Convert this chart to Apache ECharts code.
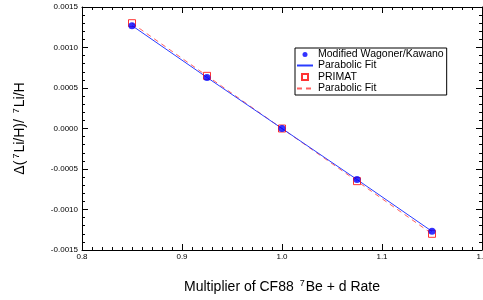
<!DOCTYPE html>
<html lang="en">
<head>
    <meta charset="UTF-8">
    <title>Li7 sensitivity</title>
    <script src="https://cdn.jsdelivr.net/npm/echarts@6/dist/echarts.min.js"></script>
</head>
<body style="margin:0;width:483px;height:300px;background:#fff">
    <div id="container" style="width:483px;height:300px"></div>
</body>
<script>
    // data
    var multipliers = [0.85, 0.925, 1.0, 1.075, 1.15];
    var wagonerVals = [0.00127, 0.00063, 0.0, -0.00063, -0.00127];
    var primatVals = [0.00130, 0.00065, 0.0, -0.00065, -0.00130];
    var legendNames = ['Modified Wagoner/Kawano', 'Parabolic Fit', 'PRIMAT', 'Parabolic Fit '];

    function pairs(xs, ys) {
        return xs.map(function (x, i) { return [x, ys[i]]; });
    }

    var font = '"Liberation Sans", Arial, sans-serif';
    var axisLine = {show: true, onZero: false, lineStyle: {color: '#000', width: 1}};
    var tick = {show: true, inside: true, length: 6, lineStyle: {color: '#000'}};
    var titleRich = {
        t: {fontSize: 14, color: '#000', fontFamily: font},
        s: {fontSize: 9, color: '#000', fontFamily: font, verticalAlign: 'top', padding: [0, 1, 7, 2]}
    };

    // legend icons: padded boxes so the marks stay small
    var dotIcon = 'path://M0,0 M16,10 M5.5,5 a2.5,2.5 0 1,0 5,0 a2.5,2.5 0 1,0 -5,0 Z';
    var boxIcon = 'path://M0,0 M16,10 M5,2 L11,2 L11,8 L5,8 Z';

    var dom = document.getElementById('container');
    var myChart = echarts.init(dom);

    var option = {
        animation: false,
        textStyle: {fontFamily: font},
        grid: {left: 82, right: 1, top: 7, bottom: 50, outerBoundsMode: 'none'},
        legend: {
            orient: 'vertical',
            left: 295, top: 48,
            padding: [1, 3, 1, 1],
            itemGap: 0,
            itemWidth: 16, itemHeight: 10,
            borderColor: '#000', borderWidth: 1,
            textStyle: {fontSize: 10.5, color: '#000', fontFamily: font},
            formatter: function (n) { return n.trim(); },
            data: [
                {name: legendNames[0], icon: dotIcon},
                {name: legendNames[1], itemStyle: {opacity: 0}},
                {name: legendNames[2], icon: boxIcon},
                {name: legendNames[3], itemStyle: {opacity: 0}}
            ]
        },
        xAxis: [{
            type: 'value', min: 0.8, max: 1.2, interval: 0.1,
            axisLine: axisLine, axisTick: tick,
            minorTick: {show: true, splitNumber: 10, length: 3, lineStyle: {color: '#000'}},
            splitLine: {show: false},
            axisLabel: {fontSize: 8, color: '#000', margin: 3,
                formatter: function (v) { return v.toFixed(1); }},
            name: '{t|Multiplier of CF88 }{s|7}{t|Be + d Rate}',
            nameLocation: 'middle', nameGap: 29,
            nameTextStyle: {rich: titleRich}
        }, {
            type: 'value', position: 'top', min: 0.8, max: 1.2, interval: 0.1,
            axisLine: axisLine, axisTick: tick,
            minorTick: {show: true, splitNumber: 10, length: 3, lineStyle: {color: '#000'}},
            splitLine: {show: false}, axisLabel: {show: false}
        }],
        yAxis: [{
            type: 'value', min: -0.0015, max: 0.0015, interval: 0.0005,
            axisLine: axisLine, axisTick: tick,
            minorTick: {show: true, splitNumber: 5, length: 3, lineStyle: {color: '#000'}},
            splitLine: {show: false},
            axisLabel: {fontSize: 8, color: '#000', margin: 4,
                formatter: function (v) { return v.toFixed(4); }},
            name: '{t|Δ(}{s|7}{t|Li/H)/ }{s|7}{t|Li/H}',
            nameLocation: 'middle', nameGap: 54, nameRotate: 90,
            nameTextStyle: {rich: titleRich}
        }, {
            type: 'value', position: 'right', min: -0.0015, max: 0.0015, interval: 0.0005,
            axisLine: axisLine, axisTick: tick,
            minorTick: {show: true, splitNumber: 5, length: 3, lineStyle: {color: '#000'}},
            splitLine: {show: false}, axisLabel: {show: false}
        }],
        series: [{
            name: legendNames[1], type: 'line', data: pairs(multipliers, wagonerVals),
            showSymbol: false, symbol: 'none',
            lineStyle: {color: '#2a3cff', width: 1}, itemStyle: {color: '#2a3cff'}, z: 3
        }, {
            name: legendNames[3], type: 'line', data: pairs(multipliers, primatVals),
            showSymbol: false, symbol: 'none',
            lineStyle: {color: '#ff6060', width: 1, type: [5, 4]}, itemStyle: {color: '#ff6060'}, z: 2
        }, {
            name: legendNames[2], type: 'scatter', data: pairs(multipliers, primatVals),
            symbol: 'rect', symbolSize: 7,
            itemStyle: {color: 'rgba(255,255,255,0)', borderColor: '#ff0000', borderWidth: 1}, z: 4
        }, {
            name: legendNames[0], type: 'scatter', data: pairs(multipliers, wagonerVals),
            symbol: 'circle', symbolSize: 7,
            itemStyle: {color: '#0000ff'}, z: 5
        }]
    };
    myChart.setOption(option, true);
</script>
</html>
